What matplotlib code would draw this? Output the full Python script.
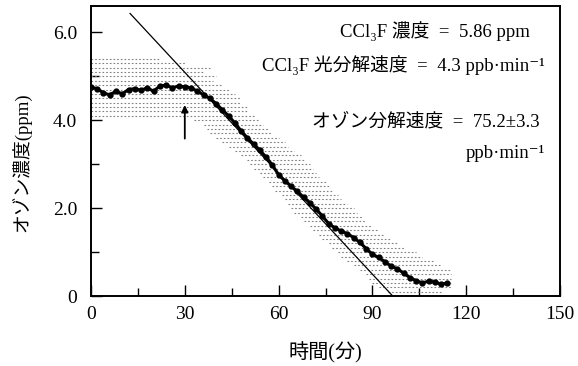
import matplotlib
matplotlib.use('Agg')
import matplotlib.pyplot as plt

# averaged ozone trace (min, ppm)
mean_t = [0, 2, 4, 6, 8, 10, 12, 14, 16, 18, 20, 22, 24, 26, 28, 30, 32, 34,
          36, 38, 40, 42, 44, 46, 48, 50, 52, 54, 56, 58, 60, 62, 64, 66, 68,
          70, 72, 74, 76, 78, 80, 82, 84, 86, 88, 90, 92, 94, 96, 98, 100, 102,
          104, 106, 108, 110, 112, 114]
mean_c = [4.75, 4.72, 4.62, 4.58, 4.66, 4.60, 4.70, 4.72, 4.68, 4.74, 4.66,
          4.78, 4.80, 4.74, 4.78, 4.76, 4.74, 4.66, 4.58, 4.50, 4.38, 4.24,
          4.10, 3.94, 3.76, 3.60, 3.46, 3.32, 3.16, 2.98, 2.76, 2.62, 2.50,
          2.38, 2.25, 2.12, 1.98, 1.82, 1.65, 1.55, 1.48, 1.42, 1.33, 1.22,
          1.08, 0.95, 0.88, 0.78, 0.68, 0.62, 0.52, 0.42, 0.35, 0.30, 0.34,
          0.32, 0.27, 0.30]

# raw readings, drawn as horizontal streaks: level, first and last time
cloud_c = [5.4, 5.3, 5.2, 5.1, 5.0, 4.9, 4.8, 4.7, 4.6, 4.5, 4.4, 4.3, 4.2,
           4.1, 4.0, 3.9, 3.8, 3.7, 3.6, 3.5, 3.4, 3.3, 3.2, 3.1, 3.0, 2.9,
           2.8, 2.7, 2.6, 2.5, 2.4, 2.3, 2.2, 2.1, 2.0, 1.9, 1.8, 1.7, 1.6,
           1.5, 1.4, 1.3, 1.2, 1.1, 1.0, 0.9, 0.8, 0.7, 0.6, 0.5, 0.4, 0.3,
           0.2, 0.1]
cloud_t0 = [0, 0, 0, 0, 0, 0, 0, 0, 0, 0, 0, 0, 0,
            0, 33, 36, 37, 38, 40, 42, 44, 46, 48, 50, 51, 52,
            54, 55, 57, 58, 59, 61, 62, 63, 64, 65, 67, 68, 70,
            71, 73, 74, 76, 77, 79, 80, 82, 84, 86, 88, 89, 90,
            92, 95]
cloud_t1 = [22, 30, 38, 36, 40, 39, 42, 44, 46, 48, 48, 50, 50,
            52, 54, 55, 57, 58, 60, 62, 63, 65, 67, 68, 70, 71,
            72, 73, 75, 76, 77, 79, 80, 82, 84, 85, 87, 88, 90,
            92, 94, 96, 98, 100, 104, 106, 110, 112, 115, 115, 115, 115,
            115, 112]

# fitted decay line
fit_t = [12.5, 96.5]
fit_c = [6.43, 0.0]

xticks = [0, 30, 60, 90, 120, 150]
yticks = [0, 2, 4, 6]
ytick_labels = ['0', '2.0', '4.0', '6.0']

serif = ['Liberation Serif', 'DejaVu Serif', 'Noto Sans CJK JP']
plt.rcParams['font.family'] = serif

fig = plt.figure(figsize=(5.78, 3.66), dpi=100)
ax = fig.add_axes([0.1574, 0.191, 0.8116, 0.7926])

ax.hlines(cloud_c, cloud_t0, cloud_t1, colors='0.5', linewidth=0.8,
          linestyles=(0, (1.5, 1.8)))
ax.plot(fit_t, fit_c, color='black', linewidth=0.9)
ax.plot(mean_t, mean_c, color='black', linewidth=2.2, marker='o',
        markersize=3.5)

ax.annotate('', xy=(30, 4.41), xytext=(30, 3.52),
            arrowprops=dict(arrowstyle='-|>', color='black', lw=1.3,
                            mutation_scale=10))

ax.set_xlim(0, 150)
ax.set_ylim(0, 6.6)
ax.set_xticks(xticks)
ax.set_xticks([15, 45, 75, 105, 135], minor=True)
ax.set_yticks(yticks)
ax.set_yticklabels(ytick_labels)
ax.set_yticks([1, 3, 5], minor=True)
ax.tick_params(which='both', direction='in', labelsize=14)
ax.tick_params(which='major', length=8, width=1.0)
ax.tick_params(which='minor', length=6, width=1.0)
ax.tick_params(axis='y', pad=10)
ax.tick_params(axis='x', pad=7)
for s in ax.spines.values():
    s.set_linewidth(1.4)

ax.set_xlabel('時間(分)', fontsize=14.5, labelpad=14)
ax.set_ylabel('オゾン濃度(ppm)', fontsize=13.5)
ax.yaxis.set_label_coords(-0.127, 0.462)

kw = dict(transform=ax.transAxes, fontsize=13.5, ha='right', va='center')
ax.text(0.935, 0.915, 'CCl₃F 濃度  =  5.86 ppm', **kw)
ax.text(0.967, 0.795, 'CCl₃F 光分解速度  =  4.3 ppb·min⁻¹', **kw)
ax.text(0.957, 0.60, 'オゾン分解速度  =  75.2±3.3', **kw)
ax.text(0.967, 0.49, 'ppb·min⁻¹', **kw)

fig.savefig('out.png', dpi=100)
